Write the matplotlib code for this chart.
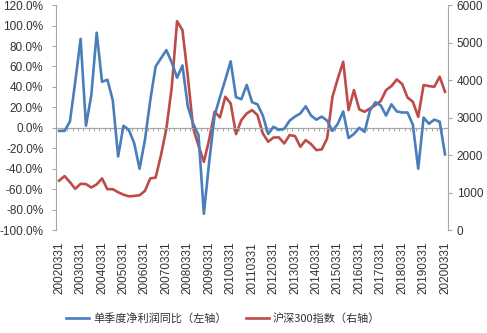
import numpy as np
import matplotlib
matplotlib.use("Agg")
import matplotlib.pyplot as plt

plt.rcParams['font.family'] = ['Liberation Sans', 'DejaVu Sans']

# Quarterly net profit YoY growth (%), 2002Q1 .. 2020Q1 (left axis)
profit_yoy = [
    -3, -3, 6, 45, 87, 2, 32, 93, 45, 47, 27, -28,
    2, -2, -15, -40, -12, 27, 60, 68, 76, 64, 49, 61,
    21, 4, -7, -84, -33, 12, 30, 47, 65, 30, 28, 42,
    25, 23, 12, -6, 1, -2, -1, 7, 11, 14, 21, 12,
    8, 11, 7, -3, 4, 16, -10, -6, 0, -4, 17, 25,
    22, 12, 23, 16, 15, 15, 3, -40, 10, 4, 8, 6,
    -26,
]

# CSI 300 index level at quarter end (right axis)
csi300 = [
    1320, 1440, 1280, 1100, 1235, 1227, 1135, 1220, 1378, 1090, 1090, 1010,
    945, 900, 912, 930, 1045, 1378, 1400, 2000, 2700, 3800, 5570, 5333,
    4110, 2720, 2250, 1820, 2420, 3156, 3005, 3556, 3378, 2560, 2933, 3111,
    3200, 3067, 2578, 2356, 2471, 2471, 2311, 2533, 2507, 2222, 2400, 2293,
    2133, 2151, 2444, 3556, 4044, 4489, 3200, 3733, 3218, 3156, 3245, 3333,
    3440, 3733, 3840, 4018, 3894, 3538, 3422, 3022, 3867, 3840, 3822, 4089,
    3689,
]

tick_labels = [
    '20020331', '20030331', '20040331', '20050331', '20060331', '20070331',
    '20080331', '20090331', '20100331', '20110331', '20120331', '20130331',
    '20140331', '20150331', '20160331', '20170331', '20180331', '20190331',
    '20200331',
]

left_ticks = [-100, -80, -60, -40, -20, 0, 20, 40, 60, 80, 100, 120]
right_ticks = [0, 1000, 2000, 3000, 4000, 5000, 6000]

BLUE = '#4A7EBB'
RED = '#BE4B48'
AXIS = '#A6A6A6'
TEXT = '#333333'
FS = 8.5

n = len(profit_yoy)
x = np.arange(n)

fig = plt.figure(figsize=(4.87, 3.33), dpi=100)
ax = fig.add_axes([0.116, 0.309, 0.8033, 0.6757])
ax2 = ax.twinx()

l1, = ax.plot(x, profit_yoy, color=BLUE, lw=1.9, solid_joinstyle='round', zorder=3)
l2, = ax2.plot(x, csi300, color=RED, lw=1.9, solid_joinstyle='round', zorder=3)
ax.set_zorder(ax2.get_zorder() + 1)
ax.patch.set_visible(False)

ax.set_xlim(-0.5, n - 0.5)
ax.set_ylim(-100, 120)
ax2.set_ylim(0, 6000)

# left axis
ax.set_yticks(left_ticks)
ax.set_yticklabels([f'{v:.1f}%' for v in left_ticks])
ax.tick_params(axis='y', direction='out', length=3, width=0.8, color=AXIS,
               labelsize=FS, labelcolor=TEXT, pad=6.5)
# right axis
ax2.set_yticks(right_ticks)
ax2.set_yticklabels([str(v) for v in right_ticks])
ax2.tick_params(axis='y', direction='out', length=3, width=0.8, color=AXIS,
                labelsize=FS, labelcolor=TEXT, pad=3.5)

for a in (ax, ax2):
    a.spines['top'].set_visible(False)
    a.spines['bottom'].set_visible(False)
ax.spines['left'].set_color(AXIS)
ax.spines['right'].set_visible(False)
ax2.spines['left'].set_visible(False)
ax2.spines['right'].set_color(AXIS)
ax2.tick_params(axis='x', length=0, labelbottom=False)

# category labels along the bottom edge
ax.set_xticks(x[::4])
ax.set_xticklabels(tick_labels, rotation=90)
ax.tick_params(axis='x', length=0, labelsize=FS, labelcolor=TEXT, pad=8.4)

# horizontal category axis line crossing at 0%
zero_frac = (0 - (-100)) / (120 - (-100))
sec = ax.secondary_xaxis(zero_frac)
sec.set_xticks(np.arange(-0.5, n, 1.0))
sec.tick_params(axis='x', direction='out', length=2.5, width=0.7, color=AXIS,
                labelbottom=False, labeltop=False, bottom=True, top=False)
for s in sec.spines.values():
    s.set_color(AXIS)
    s.set_linewidth(0.9)

fig.legend([l1, l2], ['单季度净利润同比（左轴）', '沪深300指数（右轴）'],
           loc='center', bbox_to_anchor=(0.458, 0.045), ncol=2, frameon=False,
           handlelength=2.1, handletextpad=0.35, columnspacing=1.7,
           prop={'family': ['Noto Sans CJK SC', 'Liberation Sans'], 'size': 8},
           labelcolor=TEXT)

fig.savefig('out.png', dpi=100)
